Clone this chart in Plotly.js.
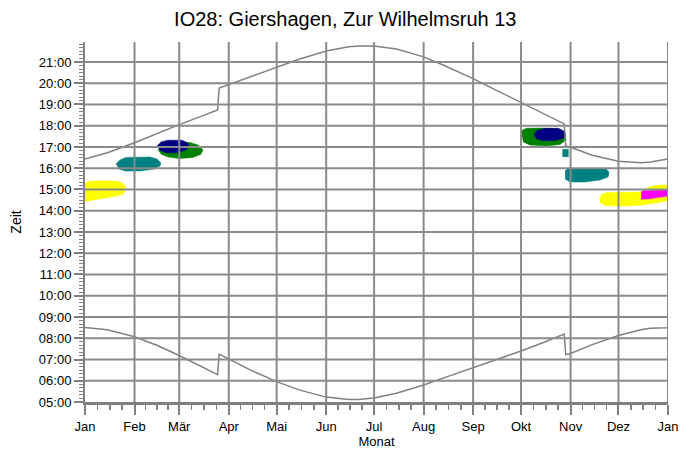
<!DOCTYPE html>
<html>
<head>
<meta charset="utf-8">
<script src="https://cdn.plot.ly/plotly-3.0.1.min.js"></script>
<style>
html,body{margin:0;padding:0;background:#fff;}
#chart{width:699px;height:450px;}
</style>
</head>
<body>
<div id="chart"></div>
<script>
// ---- axis categories (day of year, 0 = 1 Jan) ----
const monthStarts = [0, 31, 59, 90, 120, 151, 181, 212, 243, 273, 304, 334, 365];
const monthLabels = ['Jan', 'Feb', 'Mär', 'Apr', 'Mai', 'Jun', 'Jul', 'Aug', 'Sep', 'Okt', 'Nov', 'Dez', 'Jan'];
const hourTicks = [5, 6, 7, 8, 9, 10, 11, 12, 13, 14, 15, 16, 17, 18, 19, 20, 21];
const hourLabels = ['05:00', '06:00', '07:00', '08:00', '09:00', '10:00', '11:00', '12:00', '13:00',
  '14:00', '15:00', '16:00', '17:00', '18:00', '19:00', '20:00', '21:00'];

// ---- sunrise / sunset (hours, local time) ----
const sunDays = [0, 14, 31, 45, 59, 73, 83, 84, 90, 104, 120, 134, 151, 165, 171, 181, 195, 212, 226,
  243, 257, 273, 287, 300, 301, 304, 318, 334, 348, 354, 364, 365];
const sunsetHours = [16.43, 16.73, 17.20, 17.63, 18.05, 18.45, 18.74, 19.77, 19.93, 20.33, 20.76, 21.13,
  21.52, 21.715, 21.753, 21.75, 21.61, 21.24, 20.80, 20.215, 19.69, 19.08, 18.55, 18.085, 17.05, 16.99,
  16.60, 16.325, 16.26, 16.295, 16.42, 16.43];
const sunriseHours = [8.50, 8.40, 8.07, 7.67, 7.19, 6.67, 6.29, 7.25, 7.03, 6.49, 5.96, 5.57, 5.23,
  5.115, 5.12, 5.19, 5.41, 5.80, 6.17, 6.605, 6.975, 7.40, 7.80, 8.20, 7.23, 7.285, 7.71, 8.13, 8.40,
  8.465, 8.49, 8.50];

// ---- shadow areas (day of year, hour) ----
const yellowJanDay  = [0, 3, 8, 16, 22, 25, 25.5, 24, 19, 12, 5, 0];
const yellowJanHour = [15.30, 15.38, 15.41, 15.41, 15.36, 15.20, 15.00, 14.78, 14.68, 14.58, 14.48, 14.44];

const tealFebDay  = [19.4, 21.9, 25.7, 40.7, 45.1, 47.6, 47.0, 43.2, 34.4, 25.0, 21.3];
const tealFebHour = [16.20, 16.39, 16.51, 16.53, 16.44, 16.25, 16.11, 15.96, 15.87, 15.87, 15.96];

const greenMarDay  = [45.7, 50.1, 56.4, 65.7, 70.8, 73.9, 72.6, 67.6, 59.5, 52.0, 47.6];
const greenMarHour = [16.86, 17.14, 17.24, 17.21, 17.09, 16.86, 16.66, 16.51, 16.46, 16.53, 16.66];

const navyMarDay  = [45.1, 47.6, 52.0, 60.7, 63.9, 65.1, 63.2, 58.2, 50.7, 47.0];
const navyMarHour = [17.05, 17.24, 17.32, 17.32, 17.21, 17.05, 16.86, 16.73, 16.73, 16.84];

const greenOctDay  = [273.0, 276.2, 284.9, 297.4, 300.6, 301.2, 297.4, 288.7, 278.6, 274.3];
const greenOctHour = [17.75, 17.88, 17.89, 17.85, 17.66, 17.33, 17.12, 17.05, 17.09, 17.24];

const navyOctDay  = [281.1, 283.0, 288.0, 296.2, 299.9, 300.9, 299.3, 294.3, 286.2, 282.4];
const navyOctHour = [17.56, 17.78, 17.88, 17.88, 17.75, 17.59, 17.40, 17.30, 17.30, 17.40];

const tealOctDay  = [298.9, 302.6, 302.6, 298.9];
const tealOctHour = [16.89, 16.89, 16.54, 16.54];

const tealNovDay  = [300.6, 301.8, 326.2, 328.1, 327.5, 322.5, 313.1, 303.7, 300.6];
const tealNovHour = [15.87, 15.96, 15.96, 15.82, 15.59, 15.45, 15.35, 15.35, 15.49];

const yellowDecDay  = [322.2, 323.7, 327.5, 347.5, 350.7, 355.0, 360.0, 365.0, 365.0, 356.9, 347.5, 335.0, 325.6, 322.5];
const yellowDecHour = [14.55, 14.79, 14.86, 14.88, 15.02, 15.16, 15.21, 15.21, 14.46, 14.36, 14.25, 14.22, 14.25, 14.39];

const magentaDecDay  = [348.2, 349.4, 365, 365, 358.7, 352.4, 348.2];
const magentaDecHour = [14.88, 14.94, 14.97, 14.69, 14.62, 14.55, 14.55];

// ---- build ----
const GRID = '#8a8a8a';
function area(x, y, color) {
  return {type: 'scatter', mode: 'lines', x: x, y: y, fill: 'toself', fillcolor: color,
    line: {color: color, width: 0.5}, hoverinfo: 'skip', showlegend: false};
}
function curve(x, y) {
  return {type: 'scatter', mode: 'lines', x: x, y: y, line: {color: '#808080', width: 1.5},
    hoverinfo: 'skip', showlegend: false};
}
const traces = [
  area(yellowJanDay, yellowJanHour, '#ffff00'),
  area(tealFebDay, tealFebHour, '#008080'),
  area(greenMarDay, greenMarHour, '#008000'),
  area(navyMarDay, navyMarHour, '#000080'),
  area(greenOctDay, greenOctHour, '#008000'),
  area(navyOctDay, navyOctHour, '#000080'),
  area(tealOctDay, tealOctHour, '#008080'),
  area(tealNovDay, tealNovHour, '#008080'),
  area(yellowDecDay, yellowDecHour, '#ffff00'),
  area(magentaDecDay, magentaDecHour, '#ff00ff'),
  curve(sunDays, sunsetHours),
  curve(sunDays, sunriseHours)
];

// minor x ticks: quarters of each month
const minorX = [];
for (let i = 0; i < monthStarts.length - 1; i++) {
  const a = monthStarts[i], len = monthStarts[i + 1] - a;
  minorX.push(a + len / 4, a + len / 2, a + 3 * len / 4);
}

// grid lines drawn above the shaded areas
const shapes = [];
monthStarts.slice(1).forEach(d => shapes.push({type: 'line', layer: 'above', xref: 'x', yref: 'paper',
  x0: d, x1: d, y0: 0, y1: 1, line: {color: GRID, width: 2}}));
hourTicks.slice(1).forEach(h => shapes.push({type: 'line', layer: 'above', xref: 'paper', yref: 'y',
  x0: 0, x1: 1, y0: h, y1: h, line: {color: GRID, width: 2}}));

const layout = {
  width: 699, height: 450,
  margin: {l: 85, r: 31, t: 42, b: 48},
  paper_bgcolor: '#ffffff', plot_bgcolor: '#ffffff',
  font: {family: 'Liberation Sans, Arial, sans-serif', size: 13, color: '#000000'},
  title: {text: 'IO28: Giershagen, Zur Wilhelmsruh 13', font: {size: 20, color: '#000000'},
    x: 0.494, xanchor: 'center', xref: 'container', y: 1 - 19 / 450, yref: 'container', yanchor: 'middle'},
  showlegend: false,
  xaxis: {
    range: [0, 365], tickmode: 'array', tickvals: monthStarts, ticktext: monthLabels,
    ticks: 'outside', ticklen: 10, tickwidth: 2, tickcolor: '#808080', ticklabelstandoff: 0,
    showline: true, linecolor: '#808080', linewidth: 3, showgrid: false, zeroline: false,
    layer: 'above traces',
    minor: {tickmode: 'array', tickvals: minorX, ticks: 'outside', ticklen: 5, tickwidth: 1.5,
      tickcolor: '#808080', showgrid: false},
    title: {text: 'Monat', standoff: 1, font: {size: 13}}
  },
  yaxis: {
    range: [5, 21.94], tickmode: 'array', tickvals: hourTicks, ticktext: hourLabels,
    ticks: 'outside', ticklen: 9, tickwidth: 2, tickcolor: '#808080',
    showline: true, linecolor: '#808080', linewidth: 2, showgrid: false, zeroline: false,
    layer: 'above traces',
    minor: {tick0: 5, dtick: 1 / 6, ticks: 'outside', ticklen: 4, tickwidth: 1,
      tickcolor: '#808080', showgrid: false},
    title: {text: 'Zeit', standoff: 14, font: {size: 14}}
  },
  shapes: shapes
};

Plotly.newPlot('chart', traces, layout, {displayModeBar: false, staticPlot: true});
</script>
</body>
</html>
